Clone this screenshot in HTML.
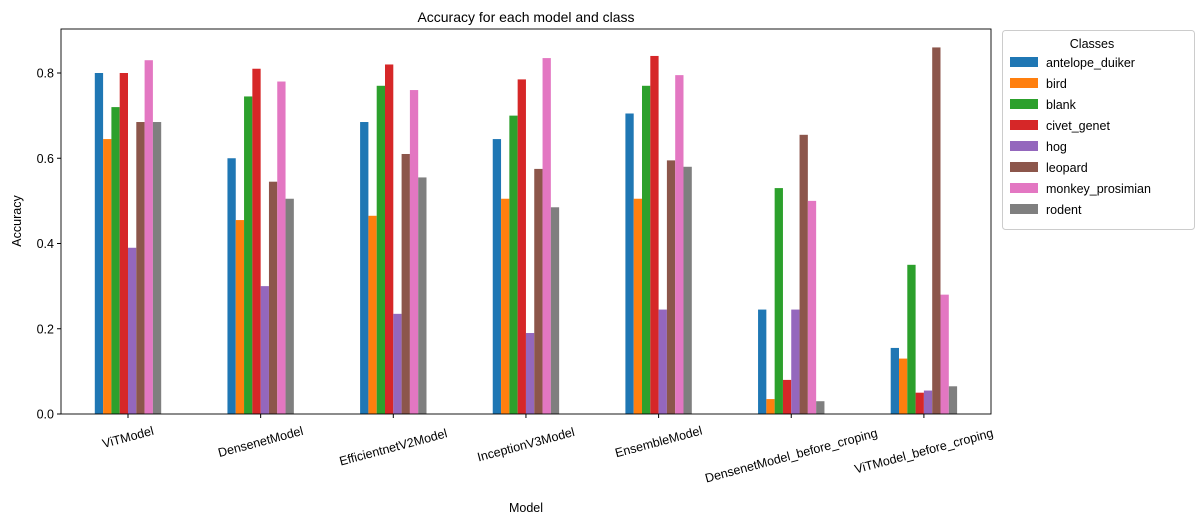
<!DOCTYPE html>
<html><head><meta charset="utf-8"><style>
body{margin:0;background:#fff;width:1196px;height:524px;overflow:hidden}
svg{font-family:"Liberation Sans","DejaVu Sans",sans-serif}
</style></head><body>
<svg id="s" width="1196" height="524" xmlns="http://www.w3.org/2000/svg"></svg>
<script>
const s=document.getElementById('s');
const cols=['#1f77b4','#ff7f0e','#2ca02c','#d62728','#9467bd','#8c564b','#e377c2','#7f7f7f'];
const names=['antelope_duiker','bird','blank','civet_genet','hog','leopard','monkey_prosimian','rodent'];
const models=['ViTModel','DensenetModel','EfficientnetV2Model','InceptionV3Model','EnsembleModel','DensenetModel_before_croping','ViTModel_before_croping'];
const data=[
[0.80,0.645,0.72,0.80,0.39,0.685,0.83,0.685],
[0.60,0.455,0.745,0.81,0.30,0.545,0.78,0.505],
[0.685,0.465,0.77,0.82,0.235,0.61,0.76,0.555],
[0.645,0.505,0.70,0.785,0.19,0.575,0.835,0.485],
[0.705,0.505,0.77,0.84,0.245,0.595,0.795,0.58],
[0.245,0.035,0.53,0.08,0.245,0.655,0.50,0.03],
[0.155,0.13,0.35,0.05,0.055,0.86,0.28,0.065]];
const L=61,R=991,T=29,B=414,k=426.25;
let h='';
const y=v=>B-v*k;
const step=132.65,c0=128,bw=8.3;
data.forEach((g,i)=>{const cx=c0+i*step;g.forEach((v,j)=>{const x=cx-33.2+j*bw;h+=`<rect x="${x}" y="${y(v)}" width="${bw}" height="${v*k}" fill="${cols[j]}"/>`;});
h+=`<line x1="${cx}" y1="${B}" x2="${cx}" y2="${B+4}" stroke="#000"/>`;
const w=models[i].length*7.1;const ty=B+12+(w/2)*Math.sin(15*Math.PI/180)+4;
h+=`<text x="${cx}" y="${ty+4}" font-size="12.5" text-anchor="middle" transform="rotate(-15 ${cx} ${ty})">${models[i]}</text>`;});
[0,0.2,0.4,0.6,0.8].forEach(v=>{h+=`<line x1="${L-4}" y1="${y(v)}" x2="${L}" y2="${y(v)}" stroke="#000"/><text x="${L-7}" y="${y(v)+4.5}" font-size="12.5" text-anchor="end">${v.toFixed(1)}</text>`;});
h+=`<rect x="${L}" y="${T}" width="${R-L}" height="${B-T}" fill="none" stroke="#000" stroke-width="0.9"/>`;
h+=`<text x="526" y="22" font-size="14" text-anchor="middle">Accuracy for each model and class</text>`;
h+=`<text x="526" y="512" font-size="12.5" text-anchor="middle">Model</text>`;
h+=`<text x="21" y="221" font-size="12.5" text-anchor="middle" transform="rotate(-90 21 221)">Accuracy</text>`;
h+=`<rect x="1002.5" y="30.5" width="192" height="199" rx="3" fill="#fff" stroke="#ccc"/>`;
h+=`<text x="1092" y="48" font-size="12.5" text-anchor="middle">Classes</text>`;
names.forEach((n,j)=>{const yy=57+j*21;h+=`<rect x="1010" y="${yy}" width="28" height="10" fill="${cols[j]}"/><text x="1046" y="${yy+10}" font-size="12.5">${n}</text>`;});
s.innerHTML=h;
</script>
</body></html>
